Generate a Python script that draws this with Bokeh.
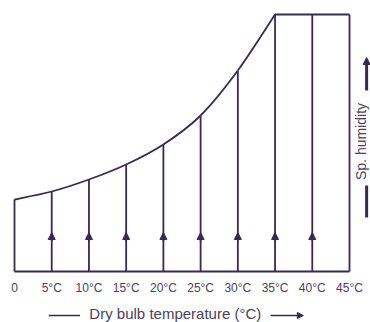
from bokeh.plotting import figure
from bokeh.models import ColumnDataSource, Arrow, NormalHead, Range1d
from bokeh.core.properties import value
from bokeh.embed import file_html
from bokeh.resources import INLINE

# ---- data ----
temps = [0, 5, 10, 15, 20, 25, 30, 35, 40, 45]
sp_humidity = [72, 80, 92, 107, 127, 156, 201, 257, 257, 257]
curve_temps = [0, 5, 10, 15, 20, 25, 30, 35]
curve_humidity = [72, 80, 92, 107, 127, 156, 201, 257]
arrow_temps = [5, 10, 15, 20, 25, 30, 35, 40]
tick_labels = ["0", "5°C", "10°C", "15°C", "20°C", "25°C", "30°C", "35°C", "40°C", "45°C"]
x_title = "Dry bulb temperature (°C)"
y_title = "Sp. humidity"

LINE = "#3b2852"
TEXT = "#4d4060"
FONT = value("Liberation Sans")

W, H = 370, 322
p = figure(width=W, height=H, output_backend="svg", toolbar_location=None,
           x_range=Range1d(-1.881, 47.821), y_range=Range1d(-51, 271),
           min_border=0, outline_line_color=None)
p.axis.visible = False
p.grid.visible = False
p.background_fill_color = "white"
p.border_fill_color = "white"

# vertical lines
src = ColumnDataSource(dict(x=temps, y0=[0] * len(temps), y1=sp_humidity))
p.segment(x0="x", y0="y0", x1="x", y1="y1", source=src, line_color=LINE, line_width=1.8)
# baseline and top
p.segment(x0=[temps[0]], y0=[0], x1=[temps[-1]], y1=[0], line_color=LINE, line_width=1.8)
p.segment(x0=[curve_temps[-1]], y0=[sp_humidity[-1]], x1=[temps[-1]], y1=[sp_humidity[-1]],
          line_color=LINE, line_width=1.8)

# saturation curve: smooth Catmull-Rom through the data points, drawn as beziers
n = len(curve_temps)
def pt(i):
    i = max(0, min(n - 1, i))
    return curve_temps[i], curve_humidity[i]
bz = dict(x0=[], y0=[], x1=[], y1=[], cx0=[], cy0=[], cx1=[], cy1=[])
for i in range(n - 1):
    pm, p0, p1, p2 = pt(i - 1), pt(i), pt(i + 1), pt(i + 2)
    bz["x0"].append(p0[0]); bz["y0"].append(p0[1])
    bz["x1"].append(p1[0]); bz["y1"].append(p1[1])
    bz["cx0"].append(p0[0] + (p1[0] - pm[0]) / 6); bz["cy0"].append(p0[1] + (p1[1] - pm[1]) / 6)
    bz["cx1"].append(p1[0] - (p2[0] - p0[0]) / 6); bz["cy1"].append(p1[1] - (p2[1] - p0[1]) / 6)
p.bezier(x0="x0", y0="y0", x1="x1", y1="y1", cx0="cx0", cy0="cy0", cx1="cx1", cy1="cy1",
         source=ColumnDataSource(bz), line_color=LINE, line_width=1.8)

# arrowheads
asrc = ColumnDataSource(dict(x=arrow_temps, ys=[30] * len(arrow_temps), ye=[39] * len(arrow_temps)))
p.add_layout(Arrow(end=NormalHead(size=7, fill_color=LINE, line_color=LINE, line_width=1),
                   x_start="x", y_start="ys", x_end="x", y_end="ye", source=asrc,
                   line_color=LINE, line_width=1.5))

# tick labels
p.text(x=temps, y=[-16] * len(temps), text=tick_labels, text_align="center",
       text_baseline="middle", text_color=TEXT, text_font=FONT, text_font_size="12px")

# x title
p.text(x=[21.6], y=[-50], text=[x_title], text_align="center", text_baseline="bottom",
       text_color=TEXT, text_font=FONT, text_font_size="15px")
p.segment(x0=[4.6], y0=[-44], x1=[8.8], y1=[-44], line_color=LINE, line_width=1.5)
p.add_layout(Arrow(end=NormalHead(size=6, fill_color=LINE, line_color=LINE),
                   x_start=34.4, y_start=-44, x_end=38.8, y_end=-44,
                   line_color=LINE, line_width=1.5))

# right-side label
p.text(x=[46.55], y=[130], text=[y_title], angle=1.5708, text_align="center",
       text_baseline="middle", text_color=TEXT, text_font=FONT, text_font_size="14px")
p.add_layout(Arrow(end=NormalHead(size=7, fill_color=LINE, line_color=LINE),
                   x_start=47.3, y_start=181, x_end=47.3, y_end=214,
                   line_color=LINE, line_width=3))
p.segment(x0=[47.3], y0=[54], x1=[47.3], y1=[86], line_color=LINE, line_width=3)

open("out.html", "w").write(file_html(p, INLINE))
